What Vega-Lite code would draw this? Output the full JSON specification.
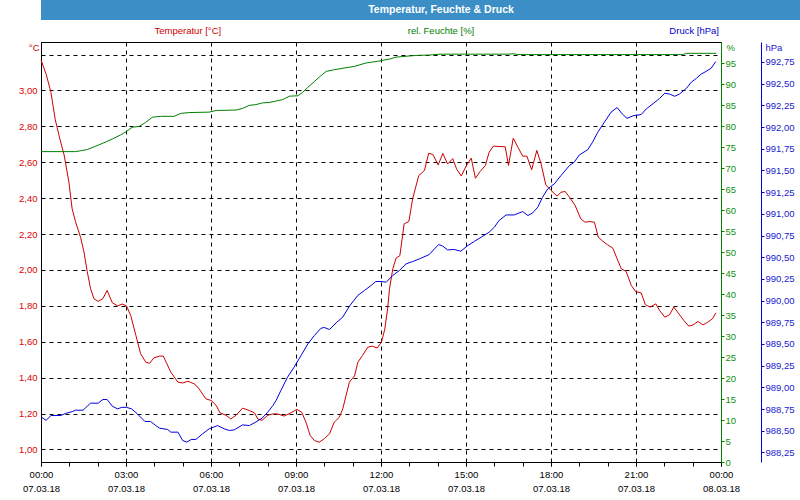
{
  "$schema": "https://vega.github.io/schema/vega-lite/v6.json",
  "padding": 0,
  "spacing": 0,
  "config": {
    "font": "Liberation Sans",
    "view": {"stroke": "#000000"},
    "axis": {"labelFontSize": 9.5, "titleFontSize": 9.5, "titleFontWeight": "normal"}
  },
  "datasets": {
    "temp": [
      {"t":"2018-03-07T00:00","v":3.17},{"t":"2018-03-07T00:11","v":3.09},{"t":"2018-03-07T00:21","v":2.99},{"t":"2018-03-07T00:30","v":2.84},
      {"t":"2018-03-07T00:40","v":2.73},{"t":"2018-03-07T00:49","v":2.64},{"t":"2018-03-07T00:59","v":2.49},{"t":"2018-03-07T01:06","v":2.34},
      {"t":"2018-03-07T01:13","v":2.27},{"t":"2018-03-07T01:24","v":2.18},{"t":"2018-03-07T01:31","v":2.10},{"t":"2018-03-07T01:38","v":1.99},
      {"t":"2018-03-07T01:45","v":1.895},{"t":"2018-03-07T01:52","v":1.84},{"t":"2018-03-07T02:01","v":1.825},{"t":"2018-03-07T02:11","v":1.84},
      {"t":"2018-03-07T02:20","v":1.886},{"t":"2018-03-07T02:31","v":1.817},{"t":"2018-03-07T02:42","v":1.80},{"t":"2018-03-07T02:52","v":1.81},
      {"t":"2018-03-07T03:01","v":1.80},{"t":"2018-03-07T03:10","v":1.746},{"t":"2018-03-07T03:21","v":1.635},{"t":"2018-03-07T03:31","v":1.533},
      {"t":"2018-03-07T03:42","v":1.486},{"t":"2018-03-07T03:50","v":1.48},{"t":"2018-03-07T03:59","v":1.51},{"t":"2018-03-07T04:11","v":1.52},
      {"t":"2018-03-07T04:19","v":1.52},{"t":"2018-03-07T04:25","v":1.486},{"t":"2018-03-07T04:35","v":1.43},{"t":"2018-03-07T04:50","v":1.375},
      {"t":"2018-03-07T05:00","v":1.37},{"t":"2018-03-07T05:11","v":1.38},{"t":"2018-03-07T05:25","v":1.365},{"t":"2018-03-07T05:35","v":1.337},
      {"t":"2018-03-07T05:49","v":1.282},{"t":"2018-03-07T06:00","v":1.273},{"t":"2018-03-07T06:11","v":1.245},{"t":"2018-03-07T06:19","v":1.204},
      {"t":"2018-03-07T06:32","v":1.19},{"t":"2018-03-07T06:42","v":1.17},{"t":"2018-03-07T06:53","v":1.19},{"t":"2018-03-07T07:07","v":1.23},
      {"t":"2018-03-07T07:21","v":1.217},{"t":"2018-03-07T07:32","v":1.204},{"t":"2018-03-07T07:39","v":1.17},{"t":"2018-03-07T07:48","v":1.162},
      {"t":"2018-03-07T08:00","v":1.19},{"t":"2018-03-07T08:11","v":1.198},{"t":"2018-03-07T08:21","v":1.198},{"t":"2018-03-07T08:35","v":1.186},
      {"t":"2018-03-07T08:49","v":1.204},{"t":"2018-03-07T09:02","v":1.223},{"t":"2018-03-07T09:12","v":1.208},{"t":"2018-03-07T09:21","v":1.152},
      {"t":"2018-03-07T09:30","v":1.078},{"t":"2018-03-07T09:39","v":1.05},{"t":"2018-03-07T09:49","v":1.04},{"t":"2018-03-07T10:00","v":1.06},
      {"t":"2018-03-07T10:11","v":1.087},{"t":"2018-03-07T10:21","v":1.152},{"t":"2018-03-07T10:32","v":1.18},{"t":"2018-03-07T10:39","v":1.226},
      {"t":"2018-03-07T10:46","v":1.30},{"t":"2018-03-07T10:53","v":1.375},{"t":"2018-03-07T11:04","v":1.41},{"t":"2018-03-07T11:11","v":1.486},
      {"t":"2018-03-07T11:21","v":1.524},{"t":"2018-03-07T11:32","v":1.57},{"t":"2018-03-07T11:42","v":1.575},{"t":"2018-03-07T11:52","v":1.565},
      {"t":"2018-03-07T12:01","v":1.598},{"t":"2018-03-07T12:08","v":1.67},{"t":"2018-03-07T12:14","v":1.783},{"t":"2018-03-07T12:18","v":1.895},
      {"t":"2018-03-07T12:25","v":2.006},{"t":"2018-03-07T12:32","v":2.066},{"t":"2018-03-07T12:40","v":2.08},{"t":"2018-03-07T12:49","v":2.257},
      {"t":"2018-03-07T12:59","v":2.27},{"t":"2018-03-07T13:07","v":2.396},{"t":"2018-03-07T13:20","v":2.526},{"t":"2018-03-07T13:32","v":2.554},
      {"t":"2018-03-07T13:41","v":2.65},{"t":"2018-03-07T13:50","v":2.643},{"t":"2018-03-07T14:01","v":2.585},{"t":"2018-03-07T14:11","v":2.649},
      {"t":"2018-03-07T14:21","v":2.59},{"t":"2018-03-07T14:32","v":2.62},{"t":"2018-03-07T14:40","v":2.563},{"t":"2018-03-07T14:50","v":2.523},
      {"t":"2018-03-07T15:00","v":2.578},{"t":"2018-03-07T15:11","v":2.623},{"t":"2018-03-07T15:20","v":2.511},{"t":"2018-03-07T15:30","v":2.549},
      {"t":"2018-03-07T15:41","v":2.582},{"t":"2018-03-07T15:49","v":2.656},{"t":"2018-03-07T15:58","v":2.69},{"t":"2018-03-07T16:10","v":2.688},
      {"t":"2018-03-07T16:23","v":2.686},{"t":"2018-03-07T16:30","v":2.582},{"t":"2018-03-07T16:40","v":2.734},{"t":"2018-03-07T16:50","v":2.684},
      {"t":"2018-03-07T17:00","v":2.634},{"t":"2018-03-07T17:09","v":2.634},{"t":"2018-03-07T17:19","v":2.558},{"t":"2018-03-07T17:30","v":2.666},
      {"t":"2018-03-07T17:39","v":2.591},{"t":"2018-03-07T17:49","v":2.474},{"t":"2018-03-07T18:00","v":2.443},{"t":"2018-03-07T18:13","v":2.411},
      {"t":"2018-03-07T18:21","v":2.433},{"t":"2018-03-07T18:30","v":2.437},{"t":"2018-03-07T18:39","v":2.406},{"t":"2018-03-07T18:51","v":2.36},
      {"t":"2018-03-07T19:03","v":2.285},{"t":"2018-03-07T19:12","v":2.266},{"t":"2018-03-07T19:21","v":2.27},{"t":"2018-03-07T19:32","v":2.266},
      {"t":"2018-03-07T19:40","v":2.183},{"t":"2018-03-07T19:50","v":2.159},{"t":"2018-03-07T20:00","v":2.14},{"t":"2018-03-07T20:11","v":2.121},
      {"t":"2018-03-07T20:20","v":2.062},{"t":"2018-03-07T20:29","v":2.006},{"t":"2018-03-07T20:39","v":1.992},{"t":"2018-03-07T20:50","v":1.914},
      {"t":"2018-03-07T20:59","v":1.88},{"t":"2018-03-07T21:11","v":1.872},{"t":"2018-03-07T21:20","v":1.806},{"t":"2018-03-07T21:30","v":1.793},
      {"t":"2018-03-07T21:42","v":1.811},{"t":"2018-03-07T21:50","v":1.774},{"t":"2018-03-07T22:01","v":1.737},{"t":"2018-03-07T22:11","v":1.75},
      {"t":"2018-03-07T22:20","v":1.793},{"t":"2018-03-07T22:31","v":1.755},{"t":"2018-03-07T22:41","v":1.719},{"t":"2018-03-07T22:52","v":1.687},
      {"t":"2018-03-07T23:01","v":1.694},{"t":"2018-03-07T23:11","v":1.713},{"t":"2018-03-07T23:22","v":1.694},{"t":"2018-03-07T23:32","v":1.709},
      {"t":"2018-03-07T23:42","v":1.728},{"t":"2018-03-07T23:49","v":1.761}
    ],
    "hum": [
      {"t":"2018-03-07T00:00","v":73.9},{"t":"2018-03-07T01:13","v":73.9},{"t":"2018-03-07T01:24","v":74.1},{"t":"2018-03-07T01:38","v":74.4},
      {"t":"2018-03-07T01:56","v":75.2},{"t":"2018-03-07T02:13","v":76.0},{"t":"2018-03-07T02:31","v":76.9},{"t":"2018-03-07T02:49","v":77.9},
      {"t":"2018-03-07T03:01","v":78.7},{"t":"2018-03-07T03:13","v":79.7},{"t":"2018-03-07T03:28","v":79.9},{"t":"2018-03-07T03:42","v":80.9},
      {"t":"2018-03-07T03:56","v":82.1},{"t":"2018-03-07T04:13","v":82.3},{"t":"2018-03-07T04:42","v":82.3},{"t":"2018-03-07T04:56","v":83.0},
      {"t":"2018-03-07T05:14","v":83.2},{"t":"2018-03-07T05:56","v":83.3},{"t":"2018-03-07T06:11","v":83.7},{"t":"2018-03-07T06:53","v":83.8},
      {"t":"2018-03-07T07:07","v":84.2},{"t":"2018-03-07T07:21","v":84.9},{"t":"2018-03-07T07:35","v":85.1},{"t":"2018-03-07T07:49","v":85.5},
      {"t":"2018-03-07T08:03","v":85.6},{"t":"2018-03-07T08:16","v":85.9},{"t":"2018-03-07T08:32","v":86.3},{"t":"2018-03-07T08:46","v":87.1},
      {"t":"2018-03-07T09:04","v":87.2},{"t":"2018-03-07T09:14","v":88.0},{"t":"2018-03-07T09:25","v":89.2},{"t":"2018-03-07T09:39","v":90.6},
      {"t":"2018-03-07T09:53","v":92.0},{"t":"2018-03-07T10:04","v":93.0},{"t":"2018-03-07T10:21","v":93.4},{"t":"2018-03-07T10:42","v":93.8},
      {"t":"2018-03-07T11:04","v":94.2},{"t":"2018-03-07T11:28","v":95.0},{"t":"2018-03-07T11:53","v":95.4},{"t":"2018-03-07T12:20","v":96.0},
      {"t":"2018-03-07T12:32","v":96.4},{"t":"2018-03-07T12:53","v":96.6},{"t":"2018-03-07T13:14","v":96.8},{"t":"2018-03-07T13:42","v":96.9},
      {"t":"2018-03-07T14:07","v":97.1},{"t":"2018-03-07T16:30","v":97.1},{"t":"2018-03-07T16:40","v":97.2},{"t":"2018-03-07T16:50","v":97.0},
      {"t":"2018-03-07T22:40","v":97.0},{"t":"2018-03-07T22:45","v":97.3},{"t":"2018-03-07T23:50","v":97.3}
    ],
    "pres": [
      {"t":"2018-03-07T00:00","v":988.66},{"t":"2018-03-07T00:11","v":988.62},{"t":"2018-03-07T00:21","v":988.676},{"t":"2018-03-07T00:42","v":988.676},
      {"t":"2018-03-07T00:52","v":988.70},{"t":"2018-03-07T01:06","v":988.72},{"t":"2018-03-07T01:13","v":988.737},{"t":"2018-03-07T01:29","v":988.737},
      {"t":"2018-03-07T01:38","v":988.783},{"t":"2018-03-07T01:45","v":988.818},{"t":"2018-03-07T02:01","v":988.818},{"t":"2018-03-07T02:11","v":988.86},
      {"t":"2018-03-07T02:20","v":988.86},{"t":"2018-03-07T02:31","v":988.783},{"t":"2018-03-07T02:42","v":988.752},{"t":"2018-03-07T02:51","v":988.77},
      {"t":"2018-03-07T03:01","v":988.77},{"t":"2018-03-07T03:12","v":988.752},{"t":"2018-03-07T03:24","v":988.695},{"t":"2018-03-07T03:40","v":988.607},
      {"t":"2018-03-07T03:52","v":988.607},{"t":"2018-03-07T04:03","v":988.56},{"t":"2018-03-07T04:11","v":988.53},{"t":"2018-03-07T04:28","v":988.515},
      {"t":"2018-03-07T04:35","v":988.484},{"t":"2018-03-07T04:50","v":988.484},{"t":"2018-03-07T05:00","v":988.388},{"t":"2018-03-07T05:09","v":988.369},
      {"t":"2018-03-07T05:18","v":988.40},{"t":"2018-03-07T05:28","v":988.40},{"t":"2018-03-07T05:42","v":988.464},{"t":"2018-03-07T05:56","v":988.522},
      {"t":"2018-03-07T06:14","v":988.56},{"t":"2018-03-07T06:28","v":988.522},{"t":"2018-03-07T06:39","v":988.503},{"t":"2018-03-07T06:49","v":988.51},
      {"t":"2018-03-07T07:07","v":988.568},{"t":"2018-03-07T07:21","v":988.56},{"t":"2018-03-07T07:35","v":988.60},{"t":"2018-03-07T07:48","v":988.645},
      {"t":"2018-03-07T08:00","v":988.714},{"t":"2018-03-07T08:11","v":988.79},{"t":"2018-03-07T08:18","v":988.85},{"t":"2018-03-07T08:28","v":988.964},
      {"t":"2018-03-07T08:42","v":989.117},{"t":"2018-03-07T08:56","v":989.233},{"t":"2018-03-07T09:11","v":989.37},{"t":"2018-03-07T09:25","v":989.50},
      {"t":"2018-03-07T09:39","v":989.598},{"t":"2018-03-07T09:53","v":989.682},{"t":"2018-03-07T10:00","v":989.69},{"t":"2018-03-07T10:11","v":989.667},
      {"t":"2018-03-07T10:25","v":989.743},{"t":"2018-03-07T10:39","v":989.81},{"t":"2018-03-07T10:53","v":989.935},{"t":"2018-03-07T11:11","v":990.06},
      {"t":"2018-03-07T11:25","v":990.117},{"t":"2018-03-07T11:39","v":990.174},{"t":"2018-03-07T11:49","v":990.22},{"t":"2018-03-07T12:00","v":990.22},
      {"t":"2018-03-07T12:11","v":990.212},{"t":"2018-03-07T12:25","v":990.29},{"t":"2018-03-07T12:39","v":990.347},{"t":"2018-03-07T12:53","v":990.423},
      {"t":"2018-03-07T13:07","v":990.45},{"t":"2018-03-07T13:21","v":990.48},{"t":"2018-03-07T13:42","v":990.53},{"t":"2018-03-07T13:53","v":990.595},
      {"t":"2018-03-07T14:02","v":990.646},{"t":"2018-03-07T14:11","v":990.627},{"t":"2018-03-07T14:21","v":990.584},{"t":"2018-03-07T14:35","v":990.589},
      {"t":"2018-03-07T14:49","v":990.569},{"t":"2018-03-07T15:04","v":990.635},{"t":"2018-03-07T15:18","v":990.684},{"t":"2018-03-07T15:32","v":990.73},
      {"t":"2018-03-07T15:49","v":990.788},{"t":"2018-03-07T16:00","v":990.846},{"t":"2018-03-07T16:10","v":990.923},{"t":"2018-03-07T16:25","v":990.987},
      {"t":"2018-03-07T16:42","v":990.987},{"t":"2018-03-07T17:00","v":991.026},{"t":"2018-03-07T17:11","v":990.98},{"t":"2018-03-07T17:21","v":991.01},
      {"t":"2018-03-07T17:32","v":991.076},{"t":"2018-03-07T17:42","v":991.19},{"t":"2018-03-07T17:53","v":991.287},{"t":"2018-03-07T18:07","v":991.345},
      {"t":"2018-03-07T18:21","v":991.44},{"t":"2018-03-07T18:39","v":991.556},{"t":"2018-03-07T18:49","v":991.594},{"t":"2018-03-07T19:00","v":991.678},
      {"t":"2018-03-07T19:18","v":991.74},{"t":"2018-03-07T19:28","v":991.825},{"t":"2018-03-07T19:39","v":991.94},{"t":"2018-03-07T19:53","v":992.055},
      {"t":"2018-03-07T20:07","v":992.17},{"t":"2018-03-07T20:20","v":992.225},{"t":"2018-03-07T20:31","v":992.15},{"t":"2018-03-07T20:41","v":992.10},
      {"t":"2018-03-07T20:54","v":992.13},{"t":"2018-03-07T21:11","v":992.144},{"t":"2018-03-07T21:22","v":992.21},{"t":"2018-03-07T21:40","v":992.286},
      {"t":"2018-03-07T21:50","v":992.33},{"t":"2018-03-07T22:01","v":992.39},{"t":"2018-03-07T22:11","v":992.38},{"t":"2018-03-07T22:22","v":992.355},
      {"t":"2018-03-07T22:32","v":992.38},{"t":"2018-03-07T22:47","v":992.447},{"t":"2018-03-07T22:57","v":992.516},{"t":"2018-03-07T23:08","v":992.562},
      {"t":"2018-03-07T23:18","v":992.61},{"t":"2018-03-07T23:28","v":992.64},{"t":"2018-03-07T23:39","v":992.677},{"t":"2018-03-07T23:49","v":992.755}
    ]
  },
  "vconcat": [
    {
      "width": 800,
      "height": 20,
      "view": {"fill": "#3c8fc6", "stroke": null},
      "data": {"values": [{"title": "Temperatur, Feuchte & Druck"}]},
      "mark": {"type": "text", "color": "#ffffff", "fontWeight": "bold", "fontSize": 10.5},
      "encoding": {"text": {"field": "title"}}
    },
    {
      "width": 800,
      "height": 21,
      "view": {"stroke": null},
      "data": {"values": [{"k": "Temperatur [°C]"}, {"k": "rel. Feuchte [%]"}, {"k": "Druck [hPa]"}]},
      "mark": {"type": "text", "fontSize": 9.5},
      "encoding": {
        "x": {"field": "k", "type": "nominal", "sort": null, "scale": {"type": "point", "padding": 0.58}, "axis": null},
        "text": {"field": "k"},
        "color": {"field": "k", "type": "nominal", "sort": null,
          "scale": {"domain": ["Temperatur [°C]", "rel. Feuchte [%]", "Druck [hPa]"], "range": ["#cc0000", "#008000", "#0000cc"]},
          "legend": null}
      }
    },
    {
      "spacing": 0,
      "vconcat": [
        {
          "width": 680,
          "height": 420,
          "resolve": {"scale": {"y": "independent"}, "axis": {"x": "independent", "y": "independent"}},
          "layer": [
            {
              "data": {"name": "temp"},
              "mark": {"type": "line", "color": "#cc0000", "strokeWidth": 1},
              "encoding": {
                "x": {"field": "t", "type": "temporal",
                  "scale": {"domain": [{"year": 2018, "month": 3, "date": 7, "hours": 0}, {"year": 2018, "month": 3, "date": 8, "hours": 0}]},
                  "axis": {"orient": "bottom", "title": null, "tickCount": 8, "format": "%H:%M",
                    "labelColor": "#000000", "labelPadding": 3, "labelFlush": false, "labelOverlap": false,
                    "tickSize": 4, "tickColor": "#000000", "domainColor": "#000000",
                    "grid": true, "gridColor": "#000000", "gridDash": [4, 4], "gridOpacity": 1}},
                "y": {"field": "v", "type": "quantitative",
                  "scale": {"domain": [0.93, 3.27], "nice": false, "zero": false},
                  "axis": {"orient": "left", "values": [1, 1.2, 1.4, 1.6, 1.8, 2, 2.2, 2.4, 2.6, 2.8, 3, 3.2],
                    "labelExpr": "datum.value > 3.1 ? '' : replace(format(datum.value, '.2f'), '.', ',')",
                    "ticks": false, "labelPadding": 4, "labelColor": "#dd0000", "domainColor": "#000000",
                    "grid": true, "gridColor": "#000000", "gridDash": [4, 4], "gridOpacity": 1,
                    "title": "°C", "titleColor": "#cc0000", "titleAngle": 0, "titleAlign": "right", "titleBaseline": "top",
                    "titleX": -2, "titleY": 0, "minExtent": 40}}
              }
            },
            {
              "data": {"name": "hum"},
              "mark": {"type": "line", "color": "#008000", "strokeWidth": 1},
              "encoding": {
                "x": {"field": "t", "type": "temporal",
                  "scale": {"domain": [{"year": 2018, "month": 3, "date": 7, "hours": 0}, {"year": 2018, "month": 3, "date": 8, "hours": 0}]},
                  "axis": {"orient": "bottom", "title": null, "tickCount": 24,
                    "labels": false, "grid": false, "domain": false, "tickSize": 4, "tickColor": "#000000"}},
                "y": {"field": "v", "type": "quantitative",
                  "scale": {"domain": [0, 100], "nice": false},
                  "axis": {"orient": "right", "values": [0, 5, 10, 15, 20, 25, 30, 35, 40, 45, 50, 55, 60, 65, 70, 75, 80, 85, 90, 95],
                    "tickSize": 3, "tickColor": "#008000", "domainColor": "#008000", "labelColor": "#109010", "labelPadding": 1,
                    "grid": false, "title": "%", "titleColor": "#109010", "titleAngle": 0, "titleAlign": "left", "titleBaseline": "top",
                    "titleX": 5, "titleY": 0}}
              }
            },
            {
              "data": {"name": "pres"},
              "mark": {"type": "line", "color": "#0000dd", "strokeWidth": 1},
              "encoding": {
                "x": {"field": "t", "type": "temporal",
                  "scale": {"domain": [{"year": 2018, "month": 3, "date": 7, "hours": 0}, {"year": 2018, "month": 3, "date": 8, "hours": 0}]},
                  "axis": {"orient": "bottom", "title": null, "tickCount": 8, "format": "%d.%m.%y",
                    "labelColor": "#000000", "labelPadding": 21, "labelFlush": false, "labelOverlap": false,
                    "ticks": false, "domain": false, "grid": false}},
                "y": {"field": "v", "type": "quantitative",
                  "scale": {"domain": [988.14, 992.98], "nice": false, "zero": false},
                  "axis": {"orient": "right", "offset": 40,
                    "values": [988.25, 988.5, 988.75, 989, 989.25, 989.5, 989.75, 990, 990.25, 990.5, 990.75, 991, 991.25, 991.5, 991.75, 992, 992.25, 992.5, 992.75],
                    "labelExpr": "replace(format(datum.value, '.2f'), '.', ',')",
                    "tickSize": 3, "tickColor": "#0000dd", "domainColor": "#0000dd", "labelColor": "#2020cc", "labelPadding": 1,
                    "grid": false, "title": "hPa", "titleColor": "#2020cc", "titleAngle": 0, "titleAlign": "left", "titleBaseline": "top",
                    "titleX": 4, "titleY": 0}}
              }
            }
          ]
        }
      ]
    }
  ]
}
